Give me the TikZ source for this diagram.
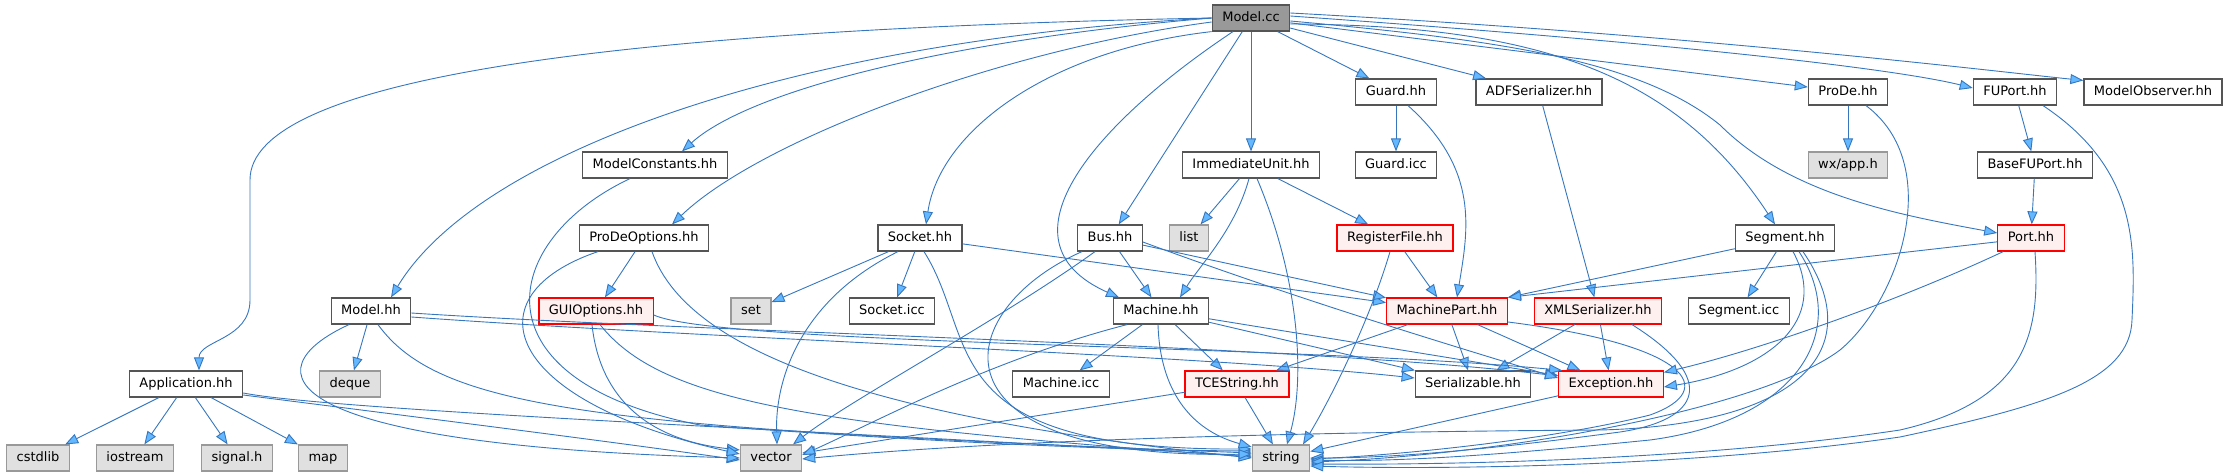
\documentclass[tikz,border=0pt]{standalone}
\usepackage{fontspec}
\setmainfont{DejaVu Sans}
\usetikzlibrary{arrows.meta}
\definecolor{edgeblue}{HTML}{3576BE}
\definecolor{tipblue}{HTML}{63B8FF}
\definecolor{rootgray}{HTML}{999999}
\definecolor{sysgray}{HTML}{E0E0E0}
\definecolor{truncfill}{HTML}{FFF0F0}
\definecolor{framegray}{HTML}{555555}

\begin{document}
\begin{tikzpicture}[
  x=1pt, y=-1pt,
  every node/.style={draw, rectangle, minimum height=26pt, inner xsep=10pt, inner ysep=0pt,
    text height=10pt, text depth=3pt, font=\fontsize{13}{15}\selectfont, line width=1.2pt},
  file/.style={draw=framegray, fill=white},
  sys/.style={draw=rootgray, fill=sysgray},
  trunc/.style={draw=red, fill=truncfill},
  root/.style={draw=framegray, fill=rootgray},
  dep/.style={draw=edgeblue, line width=0.9pt, -{Triangle[length=13pt, width=10pt, fill=tipblue]}}
]
\useasboundingbox (0,0) rectangle (2228,476);

\node[root] (mcc) at (1251,18) {Model.cc};

\node[file] (guardhh) at (1396,92) {Guard.hh};
\node[file] (adfser) at (1539,92) {ADFSerializer.hh};
\node[file] (prodehh) at (1848,92) {ProDe.hh};
\node[file] (fuport) at (2015,92) {FUPort.hh};
\node[file] (modelobs) at (2153,92) {ModelObserver.hh};

\node[file] (modelconst) at (655,165) {ModelConstants.hh};
\node[file] (immunit) at (1251,165) {ImmediateUnit.hh};
\node[file] (guardicc) at (1396,165) {Guard.icc};
\node[sys] (wxapp) at (1848,165) {wx/app.h};
\node[file] (basefu) at (2035,165) {BaseFUPort.hh};

\node[file] (prodeopt) at (644,238) {ProDeOptions.hh};
\node[file] (sockethh) at (920,238) {Socket.hh};
\node[file] (bushh) at (1110,238) {Bus.hh};
\node[sys] (lst) at (1189,238) {list};
\node[trunc] (regfile) at (1395,238) {RegisterFile.hh};
\node[file] (segmenthh) at (1785,238) {Segment.hh};
\node[trunc] (porthh) at (2031,238) {Port.hh};

\node[file] (modelhh) at (371,311) {Model.hh};
\node[trunc] (guiopt) at (596,311) {GUIOptions.hh};
\node[sys] (sethdr) at (751,311) {set};
\node[file] (socketicc) at (892,311) {Socket.icc};
\node[file] (machinehh) at (1161,311) {Machine.hh};
\node[trunc] (machpart) at (1447,311) {MachinePart.hh};
\node[trunc] (xmlser) at (1598,311) {XMLSerializer.hh};
\node[file] (segicc) at (1739,311) {Segment.icc};

\node[file] (apphh) at (186,384) {Application.hh};
\node[sys] (deque) at (350,384) {deque};
\node[file] (machineicc) at (1061,384) {Machine.icc};
\node[trunc] (tcestr) at (1237,384) {TCEString.hh};
\node[file] (serial) at (1473,384) {Serializable.hh};
\node[trunc] (except) at (1611,384) {Exception.hh};

\node[sys] (cstdlib) at (38,458) {cstdlib};
\node[sys] (iostream) at (135,458) {iostream};
\node[sys] (signalh) at (237,458) {signal.h};
\node[sys] (map) at (323,458) {map};
\node[sys] (vector) at (771,458) {vector};
\node[sys] (string) at (1281,458) {string};

% straight includes
\foreach \a/\b in {mcc/immunit, mcc/bushh, mcc/guardhh, mcc/adfser, mcc/prodehh,
    guardhh/guardicc, prodehh/wxapp, fuport/basefu, basefu/porthh, adfser/xmlser,
    immunit/lst, immunit/regfile, regfile/machpart,
    sockethh/sethdr, sockethh/socketicc, sockethh/machpart,
    bushh/machinehh, bushh/machpart,
    machinehh/machineicc, machinehh/tcestr, machinehh/serial, machinehh/except,
    tcestr/string, tcestr/vector,
    machpart/tcestr, machpart/serial, machpart/except,
    xmlser/serial, xmlser/except, segmenthh/segicc,
    segmenthh/machpart.north east, porthh/machpart.north east,
    except/string, prodeopt/guiopt, modelhh/deque,
    apphh/cstdlib, apphh/iostream, apphh/signalh, apphh/map}
  \draw[dep] (\a) -- (\b);

% Model.cc
\draw[dep] (mcc.west) .. controls (600,30) and (250,80) .. (250,180) -- (250,300)
  .. controls (250,340) and (199,340) .. ([xshift=13pt]apphh.north);
\draw[dep] (mcc.west) .. controls (800,40) and (480,150) .. ([xshift=20pt]modelhh.north);
\draw[dep] (mcc.west) .. controls (950,40) and (750,90) .. ([xshift=27pt]modelconst.north);
\draw[dep] ([yshift=-4pt]mcc.west) .. controls (1000,50) and (760,140) .. ([xshift=28pt]prodeopt.north);
\draw[dep] (mcc.south west) .. controls (1050,50) and (940,130) .. ([xshift=6pt]sockethh.north);
\draw[dep] ([xshift=-18pt]mcc.south) .. controls (1100,120) and (990,240) .. ([xshift=-42pt]machinehh.north);
\draw[dep] ([yshift=-6pt]mcc.east) .. controls (1550,25) and (1680,80) .. ([xshift=-10pt]segmenthh.north);
\draw[dep] ([yshift=-3pt]mcc.east) .. controls (1500,40) and (1640,60) .. (1720,125)
  .. controls (1790,195) and (1900,215) .. ([yshift=5pt]porthh.west);
\draw[dep] ([yshift=2pt]mcc.east) .. controls (1700,45) and (1900,70) .. ([yshift=4pt]fuport.west);
\draw[dep] ([yshift=5pt]mcc.east) .. controls (1700,35) and (2000,72) .. ([yshift=-2pt]modelobs.north west);

% second level
\draw[dep] ([xshift=-2pt]immunit.south) .. controls (1235,230) and (1200,265) .. ([xshift=19pt]machinehh.north);
\draw[dep] ([xshift=6pt]immunit.south) .. controls (1300,280) and (1305,380) .. ([xshift=6pt]string.north);
\draw[dep] ([xshift=12pt]guardhh.south) .. controls (1480,170) and (1468,230) .. ([xshift=10pt]machpart.north);
\draw[dep] ([xshift=-5pt]regfile.south) .. controls (1370,320) and (1330,400) .. ([xshift=22pt]string.north);

\draw[dep] ([yshift=-9pt]apphh.east) .. controls (330,410) and (800,430) .. ([yshift=2pt]string.west);
\draw[dep] ([yshift=-11pt]apphh.east) .. controls (400,415) and (600,440) .. ([yshift=-2pt]vector.west);

\draw[dep] ([xshift=-22pt]modelhh.south) .. controls (250,370) and (270,445) .. (vector.west);
\draw[dep] ([xshift=7pt]modelhh.south) .. controls (440,410) and (600,428) .. ([yshift=5pt]string.west);
\draw[dep] ([yshift=-2pt]modelhh.east) .. controls (700,332) and (1300,345) .. ([yshift=8pt]except.west);
\draw[dep] ([yshift=-6pt]modelhh.east) .. controls (700,338) and (1200,355) .. ([yshift=6pt]serial.west);

\draw[dep] ([xshift=-4pt]guiopt.south) .. controls (600,400) and (650,440) .. ([yshift=8pt]vector.west);
\draw[dep] ([xshift=4pt]guiopt.south) .. controls (660,400) and (800,425) .. ([yshift=1pt]string.west);
\draw[dep] ([yshift=-4pt]guiopt.east) .. controls (720,345) and (1300,345) .. ([xshift=4pt]except.north west);

\draw[dep] ([xshift=-46pt]prodeopt.south) .. controls (470,295) and (500,400) .. ([yshift=4pt]vector.west);
\draw[dep] ([xshift=8pt]prodeopt.south) .. controls (690,360) and (900,420) .. (string.west);
\draw[dep] ([xshift=-25pt]modelconst.south) .. controls (500,240) and (470,380) .. (700,425)
  .. controls (900,440) and (1100,450) .. ([yshift=7pt]string.west);

\draw[dep] ([xshift=-22pt]sockethh.south) .. controls (800,300) and (775,380) .. ([xshift=6pt]vector.north);
\draw[dep] ([xshift=4pt]sockethh.south) .. controls (980,340) and (930,450) .. ([yshift=9pt]string.west);

\draw[dep] ([xshift=-15pt]bushh.south) .. controls (1000,320) and (850,400) .. ([xshift=22pt]vector.north);
\draw[dep] ([xshift=-28pt]bushh.south) .. controls (950,310) and (920,460) .. ([yshift=4pt]string.west);
\draw[dep] ([yshift=-4pt]bushh.east) .. controls (1300,300) and (1450,345) .. ([yshift=6pt]except.west);

\draw[dep] ([xshift=-34pt]machinehh.south) .. controls (990,360) and (880,420) .. ([yshift=3pt]vector.east);
\draw[dep] ([xshift=-3pt]machinehh.south) .. controls (1160,390) and (1190,430) .. ([yshift=11pt]string.west);

% into string from the right
\draw[dep] ([yshift=-11pt]machpart.east) .. controls (1690,345) and (1720,390) .. (1650,415)
  .. controls (1550,440) and (1400,455) .. ([yshift=-1pt]string.east);
\draw[dep] ([xshift=34pt]xmlser.south) .. controls (1720,380) and (1700,420) .. (1620,432)
  .. controls (1500,448) and (1400,458) .. (string.east);
\draw[dep] ([xshift=8pt]segmenthh.south) .. controls (1830,320) and (1770,370) .. ([yshift=-3pt]except.east);
\draw[dep] ([xshift=14pt]segmenthh.south) .. controls (1850,330) and (1800,420) .. (1650,440)
  .. controls (1500,455) and (1400,462) .. ([yshift=-2pt]string.east);
\draw[dep] ([xshift=18pt]segmenthh.south) .. controls (1870,350) and (1800,425) .. (1600,430)
  .. controls (1300,432) and (1000,440) .. ([yshift=-1pt]vector.east);
\draw[dep] ([xshift=6pt]porthh.south west) .. controls (1900,300) and (1760,350) .. ([yshift=-2pt]except.north east);
\draw[dep] ([xshift=4pt]porthh.south) .. controls (2040,330) and (2030,400) .. (1900,430)
  .. controls (1700,460) and (1450,465) .. ([yshift=-6pt]string.east);
\draw[dep] ([xshift=18pt]prodehh.south) .. controls (1945,165) and (1900,300) .. (1840,350)
  .. controls (1760,410) and (1500,455) .. ([yshift=-4pt]string.east);
\draw[dep] ([xshift=28pt]fuport.south) .. controls (2140,170) and (2135,250) .. (2132,320)
  .. controls (2130,380) and (2050,405) .. (1900,437)
  .. controls (1700,466) and (1450,470) .. ([yshift=-8pt]string.east);
\end{tikzpicture}
\end{document}
